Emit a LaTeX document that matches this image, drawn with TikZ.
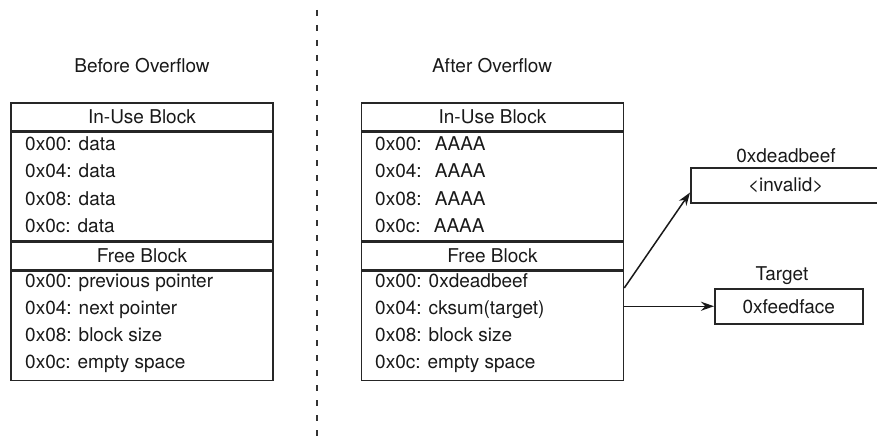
\documentclass[tikz,border=0pt]{standalone}
\usepackage{fontspec}
\setmainfont{TeX Gyre Heros}
\usetikzlibrary{arrows.meta,positioning,calc}

\tikzset{
  blockcell/.style={draw=black!85,line width=1.5pt,minimum width=262pt,inner sep=0pt},
  rowtext/.style={anchor=base west,inner sep=0pt},
  valbox/.style={draw=black!85,line width=1.5pt,inner sep=0pt,minimum height=35pt},
  ptr/.style={->,draw=black!90,line width=1.5pt},
}

\begin{document}
\begin{tikzpicture}[x=1pt,y=-1pt,>={Stealth[length=13pt,width=9pt]},font=\fontsize{19}{21}\selectfont,text=black!90]
  \useasboundingbox (0,0) rectangle (877,441);
  % divider
  \coordinate (divtop) at (317,10);
  \coordinate (divbot) at (317,441);
  \draw[black!80,line width=1.2pt,dash pattern=on 6pt off 9pt] (divtop)--(divbot);

  % before overflow
  \node[anchor=base] (titleL) at (142,73) {Before Overflow};
  \node[blockcell,minimum height=28pt] (iuL) at (142,117) {In-Use Block};
  \node[blockcell,minimum height=108pt,below=0pt of iuL] (dataL) {};
  \node[blockcell,minimum height=28pt,below=0pt of dataL] (fbL) {Free Block};
  \node[blockcell,minimum height=109pt,below=0pt of fbL] (freeL) {};
  \foreach \off/\y in {00/150,04/177,08/205,0c/232}
    \node[rowtext] at (25,\y) {0x\off: data};
  \node[rowtext] (prevL) at (25,287) {0x00: previous pointer};
  \node[rowtext] (nextL) at (25,314) {0x04: next pointer};
  \node[rowtext] (sizeL) at (25,341) {0x08: block size};
  \node[rowtext] (emptyL) at (25,368) {0x0c: empty space};

  % after overflow
  \node[anchor=base] (titleR) at (492,73) {After Overflow};
  \node[blockcell,minimum height=28pt] (iuR) at (492.5,117) {In-Use Block};
  \node[blockcell,minimum height=108pt,below=0pt of iuR] (dataR) {};
  \node[blockcell,minimum height=28pt,below=0pt of dataR] (fbR) {Free Block};
  \node[blockcell,minimum height=109pt,below=0pt of fbR] (freeR) {};
  \foreach \off/\y in {00/150,04/177,08/205,0c/232}
    \node[rowtext] at (375,\y) {0x\off:\hspace{0.7em}AAAA};
  \node[rowtext] (flinkR) at (375,287) {0x00: 0xdeadbeef};
  \node[rowtext] (blinkR) at (375,314) {0x04: cksum(target)};
  \node[rowtext] (sizeR) at (375,341) {0x08: block size};
  \node[rowtext] (emptyR) at (375,368) {0x0c: empty space};

  % pointed-to values
  \node[valbox,minimum width=190pt,anchor=north west] (inv) at (690,167) {<invalid>};
  \node[anchor=base] (invname) at (786,162) {0xdeadbeef};
  \node[valbox,minimum width=148pt,anchor=north west] (tgt) at (714,288) {0xfeedface};
  \node[anchor=base] (tgtname) at (782,280) {Target};

  \coordinate (fork1) at (tgt.north west -| freeR.east);
  \coordinate (fork2) at (tgt.west -| freeR.east);
  \draw[ptr] (fork1)--($(inv.south west)!0.3!(inv.north west)$);
  \draw[ptr] (fork2)--(tgt.west);
\end{tikzpicture}
\end{document}
